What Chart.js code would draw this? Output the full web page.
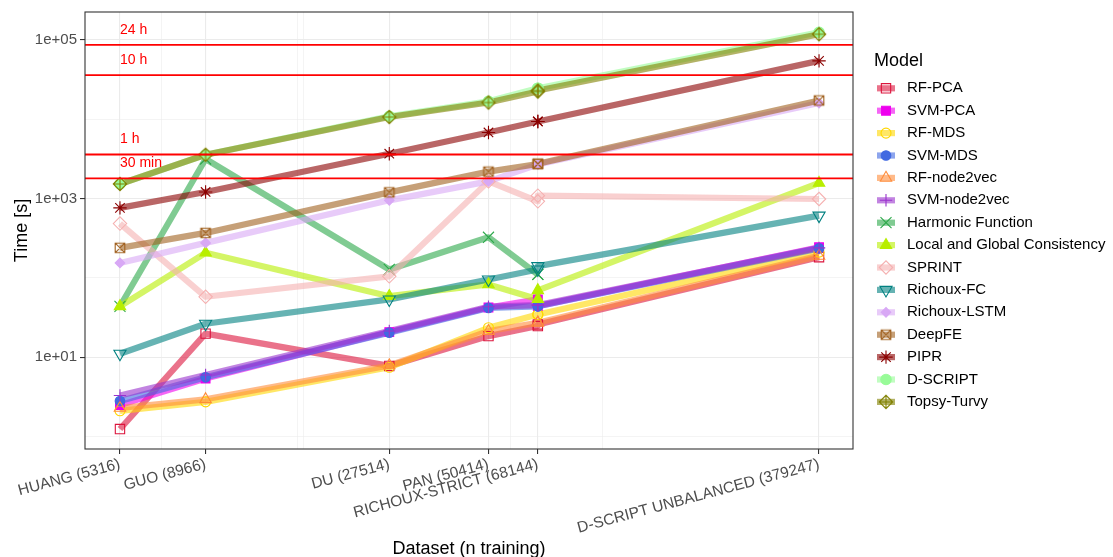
<!DOCTYPE html>
<html>
<head>
<meta charset="utf-8">
<script src="https://cdn.jsdelivr.net/npm/chart.js@4.4.1/dist/chart.umd.min.js"></script>
<style>
  html, body { margin: 0; padding: 0; background: #ffffff; }
  canvas { display: block; }
</style>
</head>
<body>
<canvas id="chart" width="1113" height="557"></canvas>
<script>
// ---- data ---------------------------------------------------------------
const datasetNames = ['HUANG', 'GUO', 'DU', 'PAN', 'RICHOUX-STRICT', 'D-SCRIPT UNBALANCED'];
const nTraining = [5316, 8966, 27514, 50414, 68144, 379247];
// RICHOUX-STRICT was timed twice, so each series holds two values there
const runDataset = [0, 1, 2, 3, 4, 4, 5];

const models = ['RF-PCA', 'SVM-PCA', 'RF-MDS', 'SVM-MDS', 'RF-node2vec', 'SVM-node2vec',
  'Harmonic Function', 'Local and Global Consistency', 'SPRINT', 'Richoux-FC',
  'Richoux-LSTM', 'DeepFE', 'PIPR', 'D-SCRIPT', 'Topsy-Turvy'];

// runtime in seconds, one value per run (see runDataset)
const rfPca       = [1.25, 19.9, 7.8, 18.5, 24.8, 26.0, 183];
const svmPca      = [2.5, 5.4, 20.8, 42.5, 53.7, 44.2, 244];
const rfMds       = [2.12, 2.75, 7.5, 23.6, 34.7, 34.7, 212];
const svmMds      = [2.82, 5.6, 20.5, 42.0, 44.0, 44.0, 236];
const rfNode2vec  = [2.3, 2.96, 7.9, 21.4, 27.3, 27.3, 190];
const svmNode2vec = [3.3, 6.0, 21.5, 43.5, 45.5, 45.5, 240];
const harmonic    = [44, 3160, 128, 326, 111, 111, null];
const lgc         = [44, 208, 59, 83, 54, 70, 1574];
const sprint      = [485, 58, 105, 1650, 925, 1091, 990];
const richouxFc   = [11.1, 26.5, 53.7, 95.7, 128, 141, 611];
const richouxLstm = [155, 277, 952, 1652, 2690, 2690, 16000];
const deepFe      = [240, 370, 1200, 2188, 2730, 2757, 17260];
const pipr        = [764, 1213, 3680, 6820, 9380, 9380, 54500];
const dScript     = [1531, 3573, 10900, 16900, 24660, 24660, 125000];
const topsyTurvy  = [1531, 3573, 10670, 16250, 22390, 23000, 118000];

const seriesValues = [rfPca, svmPca, rfMds, svmMds, rfNode2vec, svmNode2vec, harmonic, lgc,
  sprint, richouxFc, richouxLstm, deepFe, pipr, dScript, topsyTurvy];

// axis ticks and reference times
const yTickValues = [1, 10, 100, 1000, 10000, 100000];
const yTickLabels = ['', '1e+01', '', '1e+03', '', '1e+05'];
const yMajor = [10, 1000, 100000];
const xMinorGrid = [6870, 15700, 16300, 57800, 101000];
const thresholdSeconds = [86400, 36000, 3600, 1800];
const thresholdLabels = ['24 h', '10 h', '1 h', '30 min'];

// ---- styles ---------------------------------------------------------------
const FONT = '"Liberation Sans", Arial, Helvetica, sans-serif';
const LINE_WIDTH = 6.2;
const colors = ['#dc143c', '#ee00ee', '#ffd700', '#4169e1', '#ff8c3a', '#9a32cd', '#2ca84a',
  '#b8ee00', '#f5b0b0', '#008080', '#d8a8f5', '#a0601e', '#8b0000', '#98fb98', '#808000'];

function rgba(hex, a) {
  const n = parseInt(hex.slice(1), 16);
  return `rgba(${(n >> 16) & 255},${(n >> 8) & 255},${n & 255},${a})`;
}

function makeMarker(color, draw) {
  const c = document.createElement('canvas');
  c.width = 18; c.height = 18;
  const g = c.getContext('2d');
  g.strokeStyle = color; g.lineWidth = 1.1;
  draw(g, 9, 9);
  return c;
}
// square with a cross inside
const squareX = makeMarker('#a0601e', (g, x, y) => {
  const s = 4.8;
  g.beginPath();
  g.rect(x - s, y - s, 2 * s, 2 * s);
  g.moveTo(x - s, y - s); g.lineTo(x + s, y + s);
  g.moveTo(x + s, y - s); g.lineTo(x - s, y + s);
  g.stroke();
});
// diamond with a plus inside
const diamondPlus = makeMarker('#808000', (g, x, y) => {
  const r = 6.7;
  g.beginPath();
  g.moveTo(x - r, y); g.lineTo(x, y - r); g.lineTo(x + r, y); g.lineTo(x, y + r); g.closePath();
  g.moveTo(x - r, y); g.lineTo(x + r, y);
  g.moveTo(x, y - r); g.lineTo(x, y + r);
  g.stroke();
});

const markers = [
  { style: 'rect', r: 6.6, fill: false },
  { style: 'rect', r: 6.2, fill: true },
  { style: 'circle', r: 5.0, fill: false },
  { style: 'circle', r: 4.8, fill: true },
  { style: 'triangle', r: 6.6, fill: false },
  { style: 'cross', r: 6.2, fill: false },
  { style: 'crossRot', r: 7.8, fill: false },
  { style: 'triangle', r: 6.6, fill: true },
  { style: 'rectRot', r: 6.7, fill: false },
  { style: 'triangle', r: 7.0, fill: false, rot: 180 },
  { style: 'rectRot', r: 4.8, fill: true },
  { style: squareX, r: 6, fill: false },
  { style: 'star', r: 6.7, fill: false },
  { style: 'circle', r: 5.2, fill: true },
  { style: diamondPlus, r: 6, fill: false }
];

// ---- datasets ---------------------------------------------------------------
function pointsOf(values) {
  return runDataset
    .map((d, i) => ({ x: nTraining[d], y: values[i] }))
    .filter(p => p.y !== null);
}

const lineSets = models.map((m, i) => ({
  label: m,
  data: pointsOf(seriesValues[i]),
  borderColor: rgba(colors[i], 0.6),
  borderWidth: LINE_WIDTH,
  borderJoinStyle: 'round',
  borderCapStyle: 'butt',
  pointRadius: 0,
  pointHoverRadius: 0,
  tension: 0,
  fill: false,
  order: 1000 - i
}));

const pointSets = models.map((m, i) => ({
  label: m + ' points',
  data: pointsOf(seriesValues[i]),
  showLine: false,
  pointStyle: markers[i].style,
  pointRotation: markers[i].rot || 0,
  pointRadius: markers[i].r,
  pointBorderWidth: 1.1,
  pointBorderColor: colors[i],
  pointBackgroundColor: markers[i].fill ? colors[i] : 'rgba(0,0,0,0)',
  order: 100 - i
}));

// ---- drawing helpers -----------------------------------------------------------
const decorations = {
  id: 'decorations',
  beforeDraw(chart) {
    const ctx = chart.ctx;
    ctx.save();
    ctx.fillStyle = '#ffffff';
    ctx.fillRect(0, 0, chart.width, chart.height);
    ctx.restore();
  },
  afterDatasetsDraw(chart) {
    const { ctx, chartArea: a, scales } = chart;
    ctx.save();
    ctx.beginPath();
    ctx.rect(a.left, a.top, a.right - a.left, a.bottom - a.top);
    ctx.clip();
    ctx.strokeStyle = '#ff0000';
    ctx.lineWidth = 1.8;
    ctx.fillStyle = '#ff0000';
    ctx.font = `14px ${FONT}`;
    ctx.textAlign = 'left';
    ctx.textBaseline = 'middle';
    thresholdSeconds.forEach((s, i) => {
      const y = scales.y.getPixelForValue(s);
      ctx.beginPath();
      ctx.moveTo(a.left, y);
      ctx.lineTo(a.right, y);
      ctx.stroke();
      const ty = scales.y.getPixelForValue(s * 1.55);
      ctx.fillText(thresholdLabels[i], scales.x.getPixelForValue(nTraining[0]), ty);
    });
    ctx.restore();
  },
  afterDraw(chart) {
    const { ctx, chartArea: a } = chart;
    ctx.save();
    // panel border
    ctx.strokeStyle = '#333333';
    ctx.lineWidth = 1.1;
    ctx.strokeRect(a.left, a.top, a.right - a.left, a.bottom - a.top);

    // axis titles
    ctx.fillStyle = '#000000';
    ctx.font = `18px ${FONT}`;
    ctx.textAlign = 'center';
    ctx.textBaseline = 'alphabetic';
    ctx.fillText('Dataset (n training)', (a.left + a.right) / 2, 554);
    ctx.save();
    ctx.translate(22, (a.top + a.bottom) / 2);
    ctx.rotate(-Math.PI / 2);
    ctx.textBaseline = 'middle';
    ctx.fillText('Time [s]', 0, 0);
    ctx.restore();

    // legend
    ctx.textAlign = 'left';
    ctx.textBaseline = 'alphabetic';
    ctx.font = `18px ${FONT}`;
    ctx.fillText('Model', 874, 66);
    const keyLeft = 877, keyWidth = 18, labelX = 907, top = 88.3, step = 22.4;
    models.forEach((m, i) => {
      const y = top + step * i;
      ctx.strokeStyle = rgba(colors[i], 0.6);
      ctx.lineWidth = LINE_WIDTH;
      ctx.lineCap = 'butt';
      ctx.beginPath();
      ctx.moveTo(keyLeft, y);
      ctx.lineTo(keyLeft + keyWidth, y);
      ctx.stroke();
      ctx.strokeStyle = colors[i];
      ctx.fillStyle = markers[i].fill ? colors[i] : 'rgba(0,0,0,0)';
      ctx.lineWidth = 1.1;
      Chart.helpers.drawPoint(ctx, {
        pointStyle: markers[i].style,
        rotation: markers[i].rot || 0,
        radius: markers[i].r,
        borderWidth: 1.1
      }, keyLeft + keyWidth / 2, y);
      ctx.fillStyle = '#000000';
      ctx.font = `15px ${FONT}`;
      ctx.textBaseline = 'middle';
      ctx.fillText(m, labelX, y);
    });
    ctx.restore();
  }
};

const isMajorX = v => nTraining.includes(v);
const isMajorY = v => yMajor.includes(v);

new Chart(document.getElementById('chart'), {
  type: 'line',
  data: { datasets: [...lineSets, ...pointSets] },
  options: {
    responsive: false,
    devicePixelRatio: 1,
    animation: false,
    events: [],
    layout: { padding: { top: 12, right: 260, left: 0, bottom: 0 } },
    plugins: { legend: { display: false }, tooltip: { enabled: false } },
    scales: {
      x: {
        type: 'logarithmic',
        min: 4294,
        max: 466600,
        afterBuildTicks: s => {
          s.ticks = [...nTraining, ...xMinorGrid].sort((p, q) => p - q).map(v => ({ value: v }));
        },
        afterFit: s => { s.height = 108; s.paddingLeft = 0; s.paddingRight = 0; },
        border: { display: false },
        grid: {
          color: '#ebebeb',
          lineWidth: c => (c.tick && isMajorX(c.tick.value)) ? 1.1 : 0.55,
          tickColor: c => (c.tick && isMajorX(c.tick.value)) ? '#333333' : 'rgba(0,0,0,0)',
          tickWidth: 1.1,
          tickLength: 5
        },
        ticks: {
          autoSkip: false,
          minRotation: 15,
          maxRotation: 15,
          padding: 1,
          color: '#4d4d4d',
          font: { family: FONT, size: 15.5 },
          callback: v => {
            const i = nTraining.indexOf(v);
            return i < 0 ? '' : `${datasetNames[i]} (${nTraining[i]})`;
          }
        }
      },
      y: {
        type: 'logarithmic',
        min: 0.7166,
        max: 224900,
        afterBuildTicks: s => { s.ticks = yTickValues.map(v => ({ value: v })); },
        afterFit: s => { s.width = 85; s.paddingTop = 0; s.paddingBottom = 0; },
        border: { display: false },
        grid: {
          color: '#ebebeb',
          lineWidth: c => (c.tick && isMajorY(c.tick.value)) ? 1.1 : 0.55,
          tickColor: c => (c.tick && isMajorY(c.tick.value)) ? '#333333' : 'rgba(0,0,0,0)',
          tickWidth: 1.1,
          tickLength: 5
        },
        ticks: {
          padding: 3,
          color: '#4d4d4d',
          font: { family: FONT, size: 15 },
          callback: v => {
            const i = yTickValues.indexOf(v);
            return i < 0 ? '' : yTickLabels[i];
          }
        }
      }
    }
  },
  plugins: [decorations]
});
</script>
</body>
</html>
